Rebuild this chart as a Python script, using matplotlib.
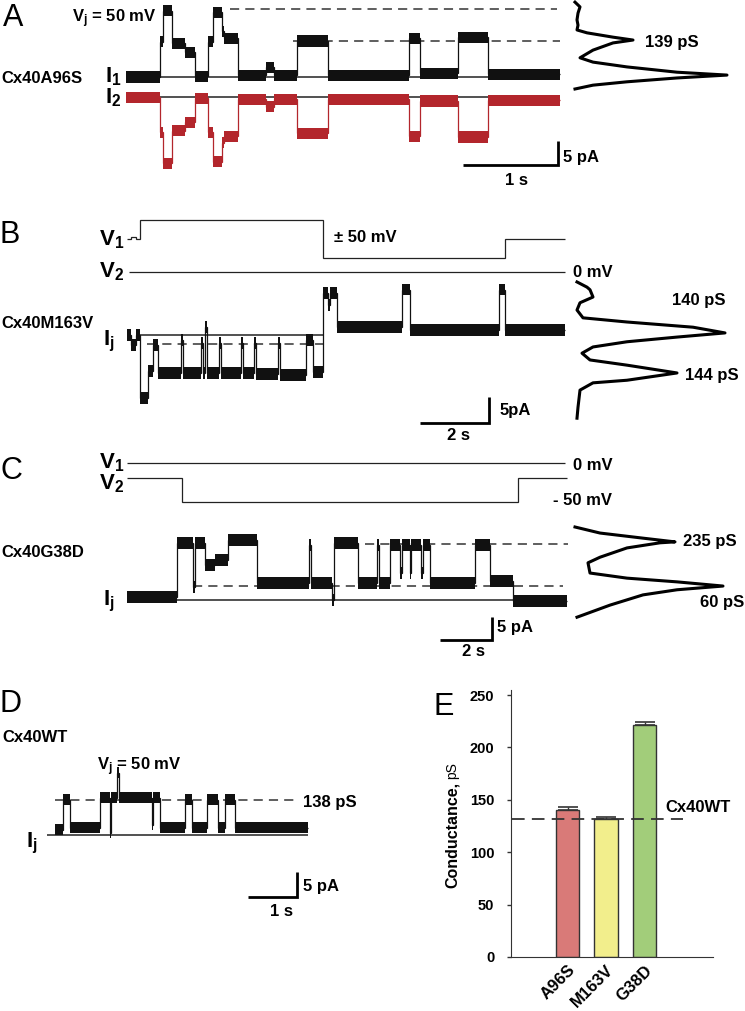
import numpy as np
import matplotlib
matplotlib.use('Agg')
import matplotlib.pyplot as plt

plt.rcParams['font.family'] = ['Liberation Sans', 'DejaVu Sans']
plt.rcParams['mathtext.fontset'] = 'custom'
plt.rcParams['mathtext.rm'] = 'Liberation Sans'
plt.rcParams['mathtext.bf'] = 'Liberation Sans:bold'
plt.rcParams['mathtext.it'] = 'Liberation Sans:italic'

# A: Cx40A96S, Vj = 50 mV (time in s, current in pA)
a_t = [0, 0.36, 0.39, 0.48, 0.62, 0.73, 0.86, 0.92, 1.01, 1.03, 1.18, 1.47, 1.56, 1.80, 2.13, 2.98, 3.09, 3.49, 3.81, 4.57]
a_i = [0, 7.3, 13.8, 7.0, 5.2, 0.2, 7.3, 13.5, 9.5, 8.1, 0.4, 2.0, 0.4, 7.5, 0.4, 8.1, 0.8, 8.3, 0.6]
a_i2_base = -4.2
a_open = 7.5
a_two = 14.2
a_hist_i = [15.6, 14.6, 13.3, 11.9, 10.8, 9.8, 9.2, 8.3, 7.7, 7.1, 5.6, 4.0, 3.1, 2.1, 1.0, 0.4, -0.2, -1.0, -1.7, -2.5]
a_hist_n = [2, 7, 5, 4, 5, 4, 14, 40, 60, 40, 20, 7, 20, 54, 104, 154, 104, 54, 20, 2]

# B: Cx40M163V, V1 = +/-50 mV, V2 = 0 mV
b_v1_t = [0, 0.12, 0.26, 0.38, 5.68, 10.96, 12.70]
b_v1 = [0, 6, 0, 50, -50, 0]
b_v2_t = [0.06, 12.70]
b_v2 = [0]
b_t = [0, 0.12, 0.26, 0.38, 0.61, 0.75, 0.90, 1.57, 1.62, 2.15, 2.20, 2.26, 2.32, 2.67, 2.73, 3.30,
       3.36, 3.68, 3.74, 4.38, 4.43, 5.19, 5.39, 5.68, 5.83, 5.88, 6.09, 7.97, 8.20, 10.78, 10.96, 12.70]
b_i = [0, -1.9, 0, -12.1, -6.9, -1.9, -7.3, -1.0, -7.3, -1.5, -7.3, 1.5, -7.3, -1.5, -7.3, -1.5,
       -7.3, -1.5, -7.5, -1.5, -7.7, -1.0, -7.1, 8.1, 5.8, 8.1, 1.5, 8.7, 1.0, 8.7, 1.0]
b_sub = -1.7
b_hist_i = [10.2, 9.2, 8.7, 7.3, 6.2, 4.8, 3.3, 2.5, 1.5, 0.4, -0.4, -1.3, -2.3, -3.5, -4.8, -5.8, -7.3, -8.7, -9.2, -10.6, -13.9, -16.0]
b_hist_n = [4, 14, 17, 20, 7, 4, 10, 54, 120, 152, 104, 54, 20, 9, 17, 54, 104, 54, 20, 7, 5, 4]

# C: Cx40G38D, V1 = 0 mV, V2 = -50 mV
c_v1_t = [0, 16.85]
c_v1 = [0]
c_v2_t = [0, 2.12, 15.04, 16.92]
c_v2 = [0, -50, 0]
c_t = [0, 1.92, 2.54, 2.62, 3.00, 3.38, 3.88, 5.00, 7.00, 7.08, 7.88, 7.96, 8.88, 9.62, 9.69, 10.12,
       10.50, 10.56, 10.88, 10.94, 11.31, 11.37, 11.65, 13.38, 13.96, 14.85, 16.92]
c_i = [0.6, 12.3, 2.8, 12.3, 7.5, 8.6, 12.9, 3.7, 11.8, 3.7, 0, 12.3, 3.7, 11.8, 3.7, 11.8,
       5.8, 11.8, 5.8, 11.8, 5.8, 11.8, 3.7, 11.8, 4.1, -0.2]
c_low = 3.0
c_high = 12.0
c_hist_i = [15.7, 14.4, 13.3, 12.5, 12.3, 11.2, 9.2, 8.0, 5.8, 4.7, 3.9, 3.0, 2.2, 1.1, -1.1, -3.7]
c_hist_n = [2, 27, 70, 102, 87, 54, 27, 15, 17, 54, 104, 150, 104, 70, 37, 4]

# D: Cx40WT, Vj = 50 mV
d_t = [0, 0.16, 0.31, 0.92, 1.12, 1.14, 1.27, 1.30, 1.98, 2.00, 2.14, 2.65, 2.80, 3.10, 3.33, 3.47, 3.67, 5.16]
d_i = [1.0, 7.0, 1.4, 7.4, 0.4, 7.4, 12.4, 7.4, 2.0, 7.4, 1.4, 7.0, 1.4, 7.0, 1.4, 7.0, 1.4]
d_open = 7.0

# E: unitary conductance
e_names = ['A96S', 'M163V', 'G38D']
e_mean = [140, 132, 221.5]
e_sem = [3, 2, 3]
e_colors = ['#D97A78', '#F2EE8C', '#A2CD7A']
wt_mean = 132

W, H = 745, 1011
fig = plt.figure(figsize=(7.45, 10.11), dpi=100)


def place(x0, y0, x1, y1, ox, oy, sx, sy):
    # pixel box of the axes, pixel of the data origin, pixels per unit
    ax = fig.add_axes([x0 / W, 1 - y1 / H, (x1 - x0) / W, (y1 - y0) / H])
    ax.set_xlim((x0 - ox) / sx, (x1 - ox) / sx)
    ax.set_ylim((oy - y1) / sy, (oy - y0) / sy)
    ax.axis('off')
    ax.patch.set_visible(False)
    return ax


def txt(x, y, s, size=12, weight='bold', **kw):
    fig.text(x / W, 1 - y / H, s, fontsize=size, fontweight=weight, va='baseline', **kw)


def trace(ax, t, i, band, color='black'):
    t = np.asarray(t, float)
    i = np.asarray(i, float)
    ax.stairs(i, t, baseline=None, color=color, lw=0.9, zorder=3)
    if band:
        y = np.append(i, i[-1])
        ax.fill_between(t, y - band, y + band, step='post', color=color, lw=0, zorder=3)


def scalebar(ax, t0, y0, dt, di):
    ax.plot([t0, t0 + dt, t0 + dt], [y0, y0, y0 + di], color='black', lw=2,
            solid_joinstyle='miter', solid_capstyle='butt')


dash = (0, (6, 4))

# ---- A ----
axA = place(95, 0, 570, 190, 126, 77, 95, 4.8)
axA.hlines([0, a_i2_base], 0.35, 4.2, colors='#222222', lw=1.1, zorder=1)
axA.hlines(a_two, 1.09, 4.54, colors='#333333', linestyles=dash, lw=1.1, zorder=1)
axA.hlines(a_open, 1.76, 4.57, colors='#333333', linestyles=dash, lw=1.1, zorder=1)
trace(axA, a_t, a_i, 1.15, color='#111111')
trace(axA, a_t, a_i2_base - np.array(a_i), 1.15, color='#B3262C')
scalebar(axA, 3.55, -18.3, 1.0, 5)
axAh = place(565, 0, 745, 100, 573, 77, 1, 4.8)
axAh.plot(a_hist_n, a_hist_i, color='black', lw=2.2)

txt(3, 26, 'A', size=22, weight='normal')
txt(72, 22, r'$\mathbf{V}_{\mathbf{j}}$ = 50 mV')
txt(1, 83, 'Cx40A96S')
txt(105, 82, r'$\mathbf{I}_{\mathbf{1}}$', size=16)
txt(105, 103, r'$\mathbf{I}_{\mathbf{2}}$', size=16)
txt(645, 47, '139 pS')
txt(563, 162, '5 pA')
txt(505, 185, '1 s')

# ---- B ----
axB1 = place(100, 200, 600, 262, 127, 239, 34.5, 0.38)
trace(axB1, b_v1_t, b_v1, 0, color='#222222')
axB2 = place(100, 262, 600, 285, 127, 272, 34.5, 0.38)
trace(axB2, b_v2_t, b_v2, 0, color='#222222')
axB = place(100, 280, 570, 445, 127, 335, 34.5, 5.2)
axB.hlines(0, 0.38, 5.68, colors='#222222', lw=1.1, zorder=1)
axB.hlines(b_sub, 0.58, 5.68, colors='#333333', linestyles=dash, lw=1.1, zorder=1)
trace(axB, b_t, b_i, 1.1, color='#111111')
scalebar(axB, 8.49, -16.9, 2.0, 5)
axBh = place(565, 275, 745, 425, 573, 335, 1, 5.2)
axBh.plot(b_hist_n, b_hist_i, color='black', lw=2.2)

txt(0, 243, 'B', size=22, weight='normal')
txt(99, 245, r'$\mathbf{V}_{\mathbf{1}}$', size=16)
txt(99, 277, r'$\mathbf{V}_{\mathbf{2}}$', size=16)
txt(334, 242, '± 50 mV')
txt(573, 277, '0 mV')
txt(1, 328, 'Cx40M163V')
txt(103, 345, r'$\mathbf{I}_{\mathbf{j}}$', size=16)
txt(672, 305, '140 pS')
txt(685, 380, '144 pS')
txt(500, 415, '5pA')
txt(447, 440, '2 s')

# ---- C ----
axC1 = place(100, 445, 600, 470, 127, 463, 26, 0.48)
trace(axC1, c_v1_t, c_v1, 0, color='#222222')
axC2 = place(100, 470, 600, 510, 127, 478, 26, 0.48)
trace(axC2, c_v2_t, c_v2, 0, color='#222222')
axC = place(100, 515, 570, 660, 127, 600, 26, 4.65)
axC.hlines(0, 1.92, 16.9, colors='#222222', lw=1.1, zorder=1)
axC.hlines(c_low, 2.54, 16.77, colors='#333333', linestyles=dash, lw=1.1, zorder=1)
axC.hlines(c_high, 9.15, 16.96, colors='#333333', linestyles=dash, lw=1.1, zorder=1)
trace(axC, c_t, c_i, 1.35, color='#111111')
scalebar(axC, 12.04, -8.6, 2.0, 5)
axCh = place(565, 515, 745, 625, 573, 600, 1, 4.65)
axCh.plot(c_hist_n, c_hist_i, color='black', lw=2.2)

txt(0, 479, 'C', size=22, weight='normal')
txt(99, 468, r'$\mathbf{V}_{\mathbf{1}}$', size=16)
txt(99, 489, r'$\mathbf{V}_{\mathbf{2}}$', size=16)
txt(573, 470, '0 mV')
txt(553, 505, '- 50 mV')
txt(1, 557, 'Cx40G38D')
txt(103, 605, r'$\mathbf{I}_{\mathbf{j}}$', size=16)
txt(683, 546, '235 pS')
txt(700, 607, '60 pS')
txt(497, 632, '5 pA')
txt(462, 656, '2 s')

# ---- D ----
axD = place(20, 760, 380, 910, 55, 835, 49, 5)
axD.hlines(0, -0.16, 5.16, colors='#222222', lw=1.1, zorder=1)
axD.hlines(d_open, 0, 4.94, colors='#333333', linestyles=dash, lw=1.1, zorder=1)
trace(axD, d_t, d_i, 1.1, color='#111111')
scalebar(axD, 3.94, -12.4, 1.0, 5)

txt(0, 712, 'D', size=22, weight='normal')
txt(2, 742, 'Cx40WT')
txt(97, 770, r'$\mathbf{V}_{\mathbf{j}}$ = 50 mV')
txt(303, 807, '138 pS')
txt(26, 847, r'$\mathbf{I}_{\mathbf{j}}$', size=16)
txt(303, 891, '5 pA')
txt(270, 916, '1 s')

# ---- E ----
axE = fig.add_axes([511 / W, 1 - 957 / H, (713 - 511) / W, (957 - 690) / H])
x = np.arange(len(e_names))
axE.bar(x, e_mean, width=0.6, color=e_colors, edgecolor='#333333', lw=1,
        yerr=[[0] * len(e_sem), e_sem], capsize=7,
        error_kw=dict(elinewidth=1, capthick=1.2, ecolor='#333333'))
axE.set_xlim(-1.47, 3.78)
axE.set_ylim(0, 254.8)
axE.hlines(wt_mean, -1.44, 3.0, colors='#333333', linestyles=(0, (7, 4)), lw=1.3, zorder=4)
for s in ['top', 'right']:
    axE.spines[s].set_visible(False)
axE.spines['left'].set_color('#333333')
axE.spines['bottom'].set_color('#333333')
axE.set_yticks([0, 50, 100, 150, 200, 250])
axE.set_yticklabels(['0', '50', '100', '150', '200', '250'], fontsize=10.5, fontweight='bold')
axE.tick_params(axis='y', direction='out', length=3, width=1, pad=9, colors='#333333', labelcolor='black')
axE.set_xticks(x)
axE.set_xticklabels(e_names, rotation=45, ha='right', va='top', rotation_mode='anchor',
                    fontsize=12, fontweight='bold')
axE.tick_params(axis='x', length=0, pad=4)

txt(433, 715, 'E', size=22, weight='normal')
txt(665, 812, 'Cx40WT')
fig.text(452 / W, 1 - 835 / H, 'Conductance,', rotation=90, fontsize=11.5, fontweight='bold',
         ha='center', va='center')
fig.text(452 / W, 1 - 771 / H, 'pS', rotation=90, fontsize=10, ha='center', va='center')

fig.savefig('out.png', dpi=100)
